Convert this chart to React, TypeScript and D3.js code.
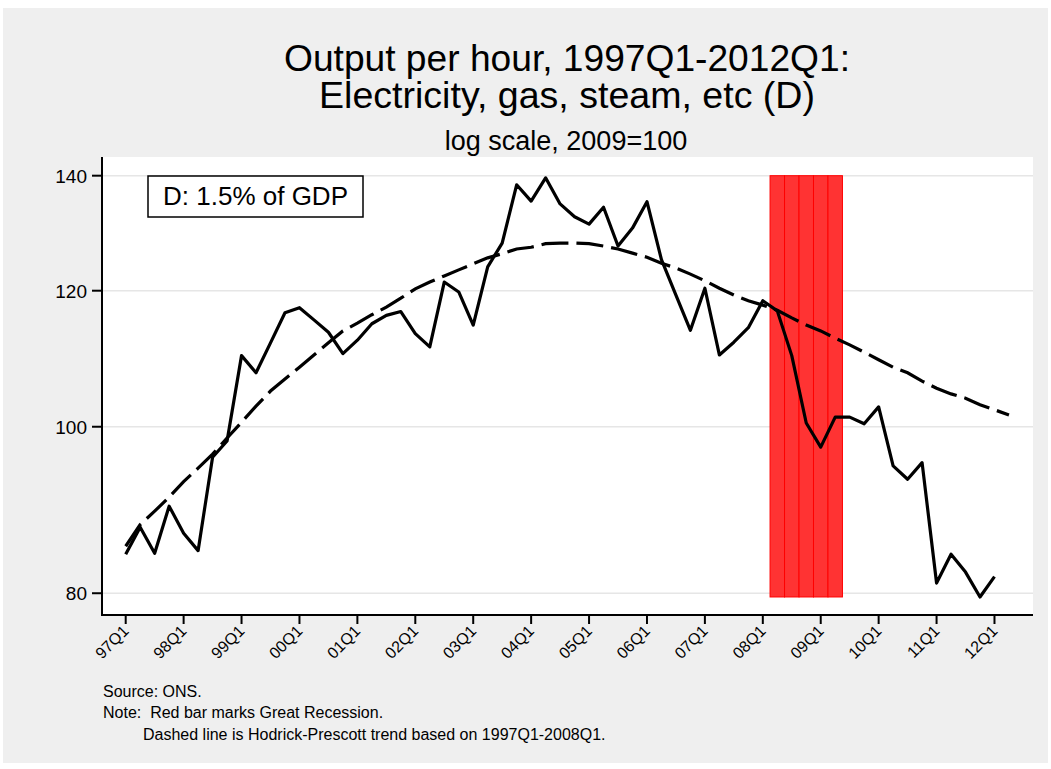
import React from "react";
import * as d3 from "d3";

// quarterly output per hour, 1997Q1..2012Q1 (2009=100)
const output = [
  84.3, 87.4, 84.4, 89.9, 86.7, 84.7, 96.0, 98.1, 110.0, 107.5, 111.9, 116.5,
  117.3, 115.4, 113.5, 110.3, 112.3, 114.8, 116.1, 116.7, 113.3, 111.3, 121.4,
  119.8, 114.6, 123.9, 127.9, 138.3, 135.3, 139.6, 134.8, 132.5, 131.2, 134.2,
  127.4, 130.5, 135.2, 125.1, 119.3, 113.8, 120.4, 110.1, 112.0, 114.2, 118.4,
  116.8, 110.0, 100.5, 97.3, 101.3, 101.3, 100.4, 102.7, 94.9, 93.2, 95.3,
  81.1, 84.3, 82.3, 79.6, 81.8,
];

// Hodrick-Prescott trend, 1997Q1..2012Q2
const trend = [
  85.2, 87.7, 89.3, 91.0, 92.9, 94.6, 96.4, 98.5, 100.6, 102.8, 104.9, 106.6,
  108.3, 110.1, 111.9, 113.7, 114.9, 116.2, 117.4, 118.8, 120.3, 121.4, 122.4,
  123.4, 124.4, 125.4, 126.1, 126.9, 127.2, 127.8, 127.9, 127.9, 127.8, 127.4,
  126.9, 126.2, 125.5, 124.5, 123.7, 122.7, 121.6, 120.4, 119.3, 118.4, 117.7,
  116.9, 115.7, 114.6, 113.7, 112.6, 111.6, 110.5, 109.4, 108.3, 107.5, 106.3,
  105.3, 104.5, 103.9, 103.0, 102.3, 101.6,
];

const xTickLabels = [
  "97Q1", "98Q1", "99Q1", "00Q1", "01Q1", "02Q1", "03Q1", "04Q1",
  "05Q1", "06Q1", "07Q1", "08Q1", "09Q1", "10Q1", "11Q1", "12Q1",
];
const yTicks = [80, 100, 120, 140];

// quarter indexes of the Great Recession (08Q2..09Q2)
const recessionQuarters = [45, 46, 47, 48, 49];
const recessionTop = 140;

const font = "'Liberation Sans', Arial, Helvetica, sans-serif";

export default function App() {
  const width = 1051;
  const height = 769;
  const plot = { left: 102, right: 1033, top: 157, bottom: 615 };

  const x = d3.scaleLinear().domain([-1.637, 62.66]).range([plot.left, plot.right]);
  const y = d3.scaleLog().domain([77.7, 143.55]).range([plot.bottom, plot.top]);

  const line = d3
    .line<number>()
    .x((_, i) => x(i))
    .y((d) => y(d));

  const recessionLow = d3.min(output) as number;

  return (
    <svg
      width={width}
      height={height}
      style={{ position: "absolute", left: 0, top: 0, fontFamily: font }}
    >
      <rect x={0} y={0} width={width} height={height} fill="#ffffff" />
      <rect x={3} y={8} width={1045} height={755} fill="#efefef" />
      <rect
        x={plot.left}
        y={plot.top}
        width={plot.right - plot.left}
        height={plot.bottom - plot.top}
        fill="#ffffff"
      />

      {/* titles */}
      <text x={567} y={71} fontSize={36} textAnchor="middle" textLength={566} lengthAdjust="spacingAndGlyphs">
        Output per hour, 1997Q1-2012Q1:
      </text>
      <text x={567} y={108} fontSize={36} textAnchor="middle" textLength={496} lengthAdjust="spacingAndGlyphs">
        Electricity, gas, steam, etc (D)
      </text>
      <text x={566} y={150} fontSize={27} textAnchor="middle">
        log scale, 2009=100
      </text>

      {/* grid */}
      {yTicks.map((t) => (
        <line
          key={t}
          x1={plot.left}
          x2={plot.right}
          y1={y(t)}
          y2={y(t)}
          stroke="#e6e6e6"
          strokeWidth={1.5}
        />
      ))}

      {/* recession bars */}
      {recessionQuarters.map((q) => (
        <rect
          key={q}
          x={x(q - 0.5)}
          y={y(recessionTop)}
          width={x(q + 0.5) - x(q - 0.5)}
          height={y(recessionLow) - y(recessionTop)}
          fill="#ff3333"
          stroke="#ff0000"
          strokeWidth={1}
        />
      ))}

      {/* trend and data */}
      <path
        d={line(trend) ?? ""}
        fill="none"
        stroke="#000"
        strokeWidth={3.2}
        strokeDasharray="27,8"
      />
      <path
        d={line(output) ?? ""}
        fill="none"
        stroke="#000"
        strokeWidth={3.2}
        strokeLinejoin="round"
      />

      {/* axes */}
      <line x1={plot.left} x2={plot.left} y1={plot.top} y2={plot.bottom + 1} stroke="#000" strokeWidth={2} />
      <line x1={plot.left - 1} x2={plot.right} y1={plot.bottom} y2={plot.bottom} stroke="#000" strokeWidth={2} />

      {yTicks.map((t) => (
        <g key={t}>
          <line x1={plot.left - 10} x2={plot.left} y1={y(t)} y2={y(t)} stroke="#000" strokeWidth={2} />
          <text x={87} y={y(t)} dy="0.36em" fontSize={19} textAnchor="end">
            {t}
          </text>
        </g>
      ))}

      {xTickLabels.map((label, i) => {
        const xq = x(i * 4);
        return (
          <g key={label}>
            <line x1={xq} x2={xq} y1={plot.bottom} y2={plot.bottom + 9} stroke="#000" strokeWidth={2} />
            <text
              transform={`translate(${xq + 4},${632}) rotate(-45)`}
              fontSize={16}
              textAnchor="end"
            >
              {label}
            </text>
          </g>
        );
      })}

      {/* legend box */}
      <rect x={148} y={176} width={215} height={41} fill="#fff" stroke="#000" strokeWidth={1.5} />
      <text x={255.5} y={205} fontSize={26} textAnchor="middle">
        D: 1.5% of GDP
      </text>

      {/* notes */}
      <g fontSize={16}>
        <text x={103} y={697}>Source: ONS.</text>
        <text x={103} y={718}>{"Note:\u00a0 Red bar marks Great Recession."}</text>
        <text x={143} y={740}>Dashed line is Hodrick-Prescott trend based on 1997Q1-2008Q1.</text>
      </g>
    </svg>
  );
}
